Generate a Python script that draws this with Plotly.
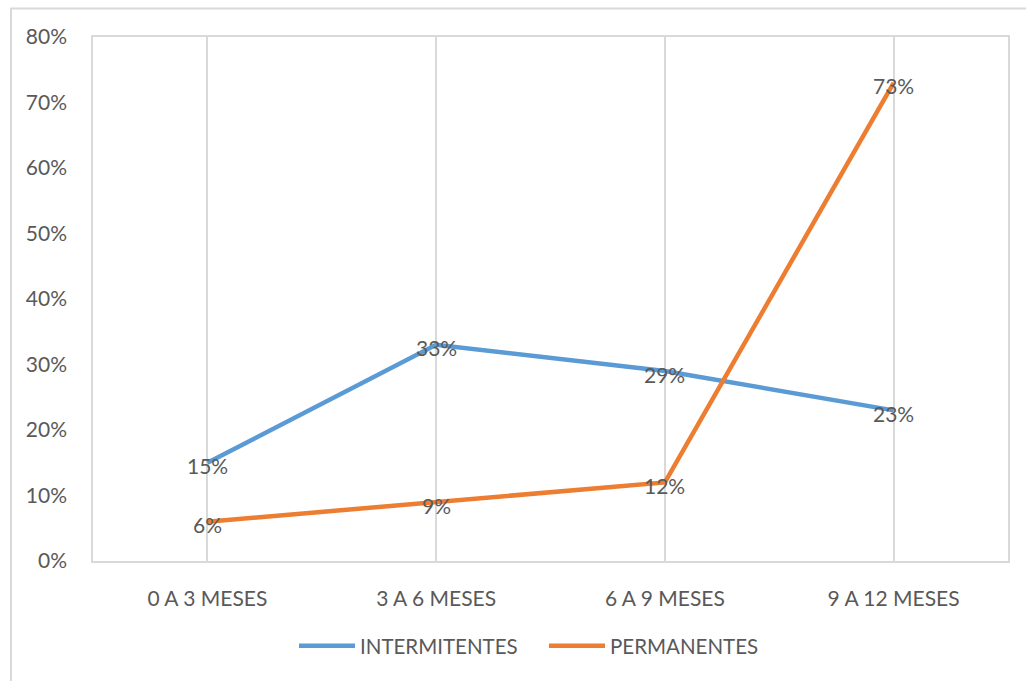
import plotly.graph_objects as go

# Categories and series values (fractions)
categorias = ["0 A 3 MESES", "3 A 6 MESES", "6 A 9 MESES", "9 A 12 MESES"]
intermitentes = [0.15, 0.33, 0.29, 0.23]
permanentes = [0.06, 0.09, 0.12, 0.73]
y_ticks = [0, 0.1, 0.2, 0.3, 0.4, 0.5, 0.6, 0.7, 0.8]

W, H = 1026, 681
ML, MR, MT, MB = 93, 18, 37, 120
PW, PH = W - ML - MR, H - MT - MB

TXT = "#595959"
GRID = "#D9D9D9"
FONT = "Lato, Carlito, Calibri, sans-serif"


def px_x(px):
    return (px - ML) / PW


def px_y(py):
    return (H - MB - py) / PH


fig = go.Figure()
annotations = []

for name, vals, color in [
    ("INTERMITENTES", intermitentes, "#5B9BD5"),
    ("PERMANENTES", permanentes, "#ED7D31"),
]:
    fig.add_trace(go.Scatter(
        x=categorias,
        y=vals,
        name=name,
        mode="lines",
        line=dict(color=color, width=4.5),
        cliponaxis=False,
    ))
    # value labels centred on each point
    for cat, v in zip(categorias, vals):
        annotations.append(dict(
            x=cat, y=v, xref="x", yref="y",
            text=f"{round(v * 100)}%",
            showarrow=False,
            xanchor="center", yanchor="middle",
            yshift=-3,
            font=dict(family=FONT, size=21, color=TXT),
        ))

fig.update_layout(
    width=W,
    height=H,
    margin=dict(l=ML, r=MR, t=MT, b=MB),
    paper_bgcolor="white",
    plot_bgcolor="white",
    font=dict(family=FONT, size=21, color=TXT),
    showlegend=True,
    legend=dict(
        orientation="h",
        x=px_x(544), xanchor="center",
        y=px_y(646), yanchor="middle",
        font=dict(family=FONT, size=20.5, color=TXT),
        itemwidth=56,
        entrywidth=179,
        entrywidthmode="pixels",
        traceorder="normal",
    ),
    xaxis=dict(
        type="category",
        showgrid=True,
        gridcolor=GRID,
        gridwidth=1.5,
        showline=True,
        linecolor=GRID,
        linewidth=1.5,
        mirror=True,
        ticks="",
        ticklabelstandoff=18,
        tickfont=dict(family=FONT, size=21, color=TXT),
        range=[-0.5, 3.5],
        zeroline=False,
    ),
    yaxis=dict(
        range=[0, 0.8],
        tickvals=y_ticks,
        tickformat=".0%",
        showgrid=False,
        showline=True,
        linecolor=GRID,
        linewidth=1.5,
        mirror=True,
        ticks="",
        ticklabelstandoff=20,
        tickfont=dict(family=FONT, size=21, color=TXT),
        zeroline=False,
    ),
    annotations=annotations,
    shapes=[
        # outer chart frame
        dict(
            type="rect", xref="paper", yref="paper",
            x0=px_x(11), x1=px_x(1040),
            y0=px_y(700), y1=px_y(8.5),
            line=dict(color=GRID, width=2),
            fillcolor="rgba(0,0,0,0)",
            layer="below",
        ),
    ],
)

fig.write_html("out.html")
